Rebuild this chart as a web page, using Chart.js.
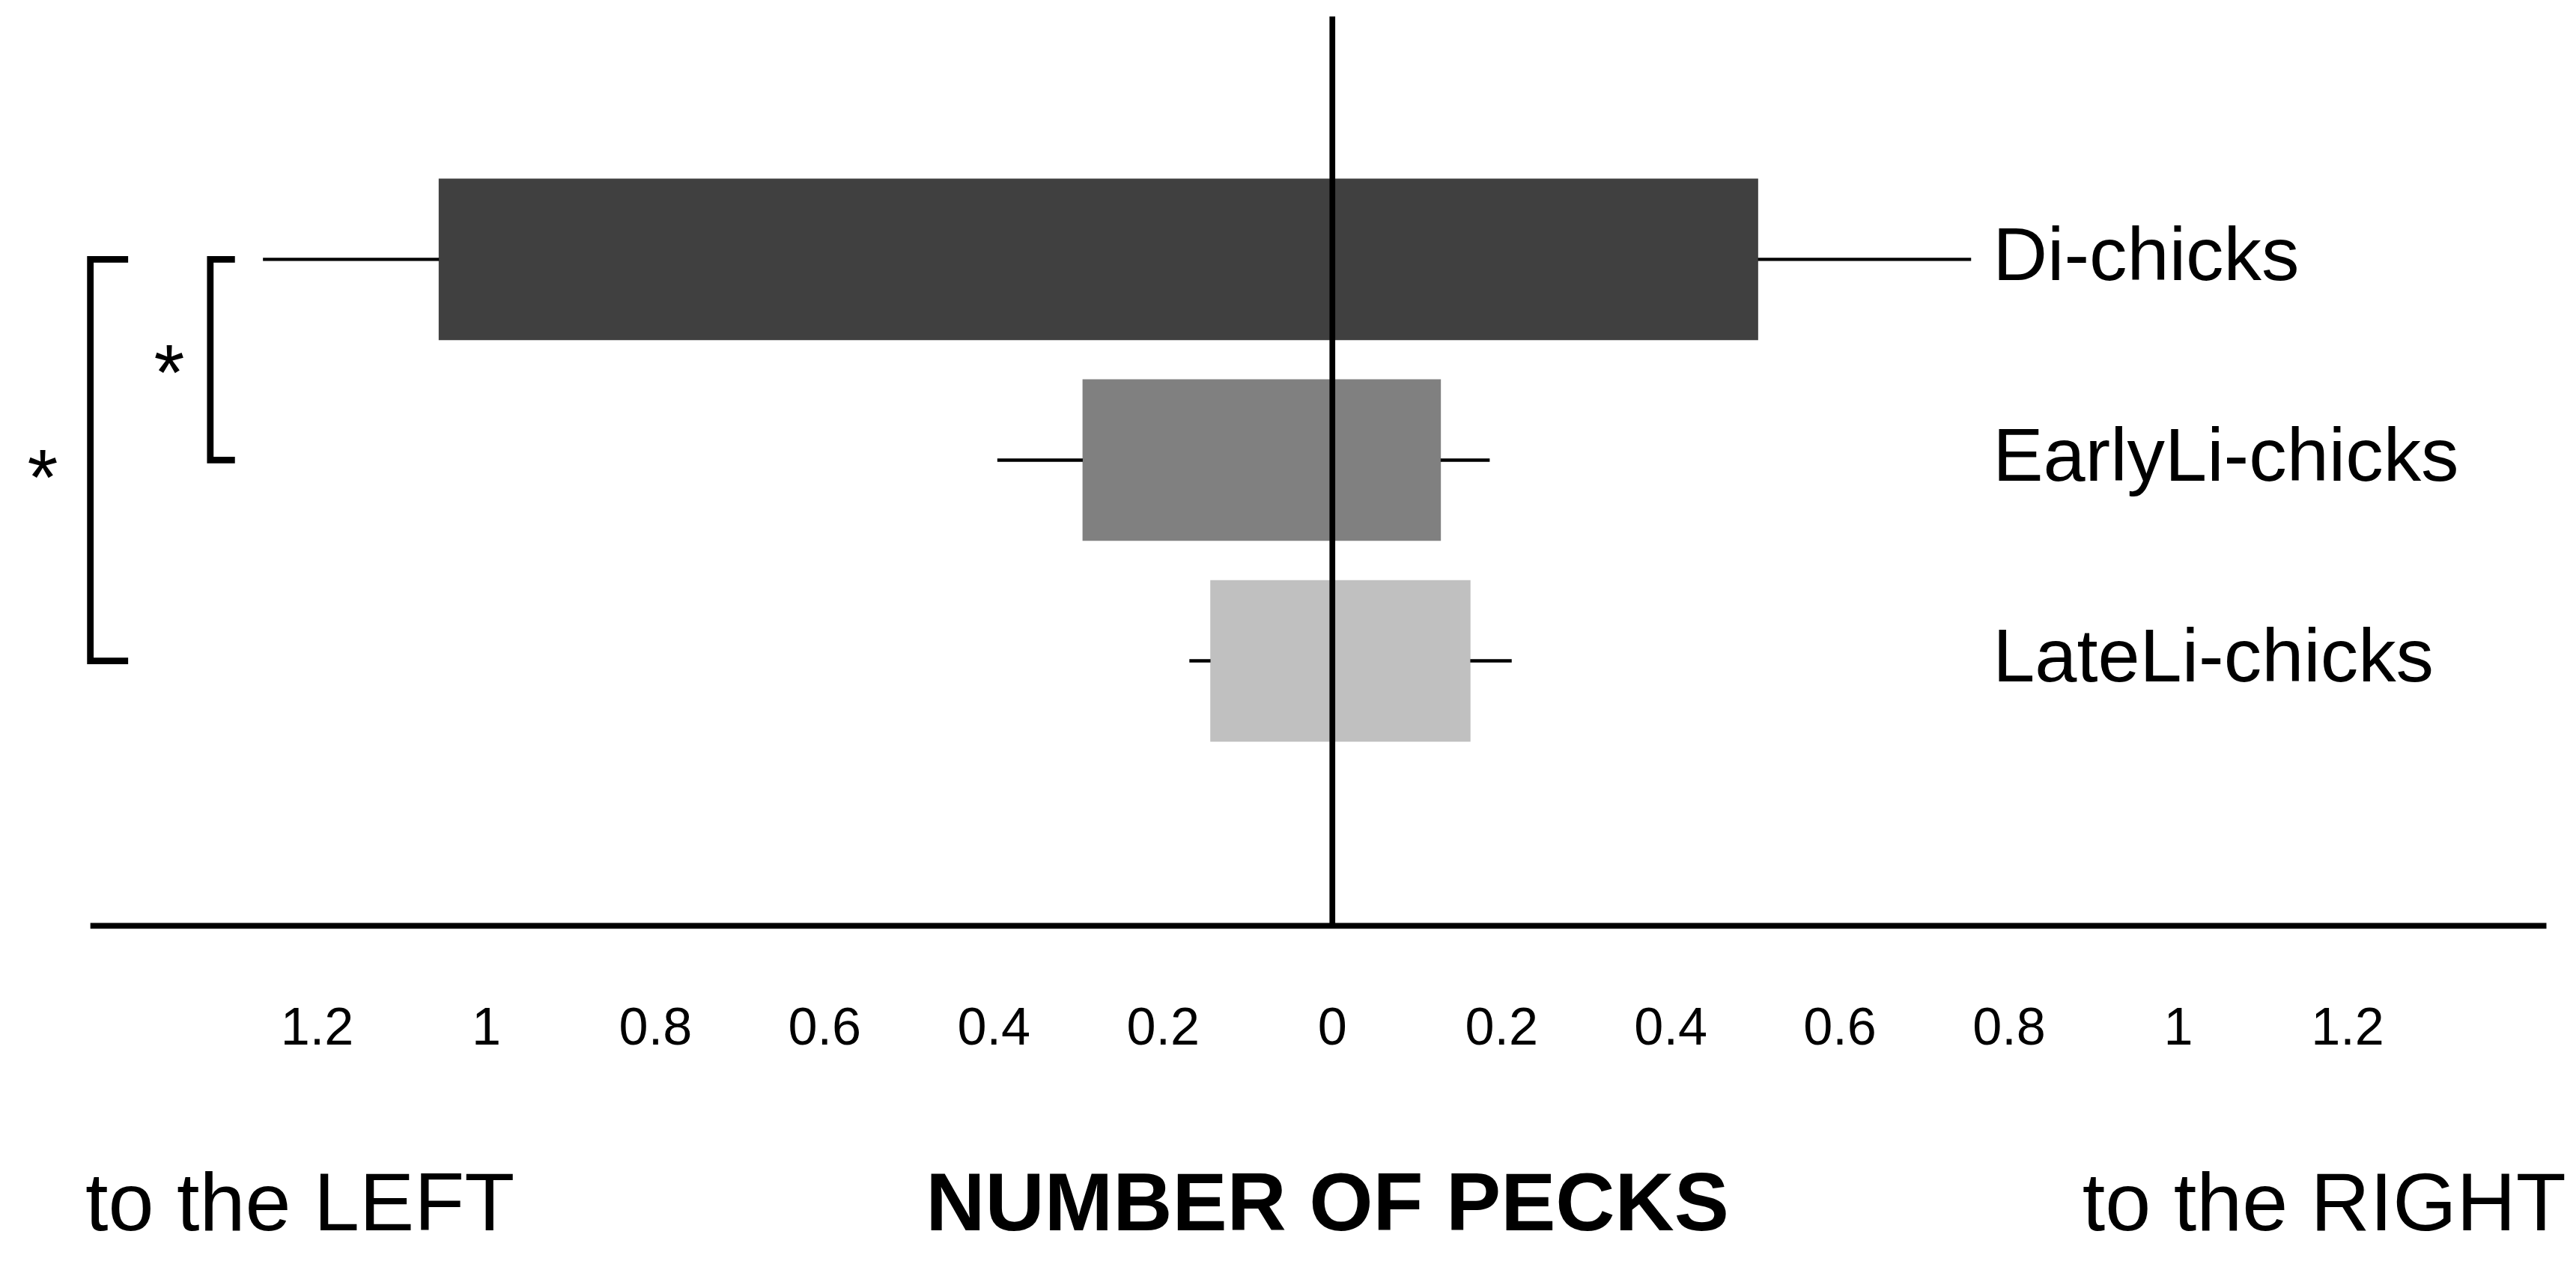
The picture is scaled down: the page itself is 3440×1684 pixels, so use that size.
<!DOCTYPE html>
<html><head><meta charset="utf-8">
<script src="https://cdn.jsdelivr.net/npm/chart.js@4"></script>
<style>html,body{margin:0;padding:0;background:#fff}#w{width:3440px;height:1684px}</style>
</head><body><div id="w"><canvas id="c"></canvas></div>
<script>
const categories = ['Di-chicks', 'EarlyLi-chicks', 'LateLi-chicks'];
const leftMeans = [1.056, 0.295, 0.144];
const rightMeans = [0.503, 0.128, 0.163];
const leftErr = [1.264, 0.396, 0.169];
const rightErr = [0.755, 0.186, 0.212];
const colors = ['#404040', '#808080', '#c0c0c0'];
const tickValues = [-1.2, -1, -0.8, -0.6, -0.4, -0.2, 0, 0.2, 0.4, 0.6, 0.8, 1, 1.2];

const S = 3440 / 1568;
const F = 'Arial, "Liberation Sans", sans-serif';

const deco = {
  id: 'deco',
  afterDatasetsDraw(ch) {
    const c = ch.ctx, x = ch.scales.x, y = ch.scales.y, a = ch.chartArea;
    c.save();
    c.strokeStyle = '#000';
    c.lineWidth = 2 * S;
    categories.forEach((n, i) => {
      const py = y.getPixelForValue(i + 1);
      c.beginPath();
      c.moveTo(x.getPixelForValue(-leftErr[i]), py); c.lineTo(x.getPixelForValue(-leftMeans[i]), py);
      c.moveTo(x.getPixelForValue(rightMeans[i]), py); c.lineTo(x.getPixelForValue(rightErr[i]), py);
      c.stroke();
    });
    c.lineWidth = 3.5 * S;
    const x0 = x.getPixelForValue(0);
    c.beginPath(); c.moveTo(x0, a.top); c.lineTo(x0, a.bottom); c.stroke();
    c.beginPath(); c.moveTo(a.left, a.bottom); c.lineTo(a.right, a.bottom); c.stroke();
    c.fillStyle = '#000'; c.textAlign = 'center'; c.textBaseline = 'middle';
    c.font = `${32 * S}px ${F}`;
    tickValues.forEach(v => {
      c.fillText(String(Math.round(Math.abs(v) * 10) / 10), x.getPixelForValue(v), 627 * S);
    });
    c.textAlign = 'left';
    c.font = `${46 * S}px ${F}`;
    categories.forEach((n, i) => c.fillText(n, 1213 * S, y.getPixelForValue(i + 1)));
    c.font = `${50 * S}px ${F}`;
    c.fillText('to the LEFT', 52 * S, 735 * S);
    c.textAlign = 'right';
    c.fillText('to the RIGHT', 1562 * S, 735 * S);
    c.textAlign = 'center';
    c.font = `bold ${50 * S}px ${F}`;
    c.fillText('NUMBER OF PECKS', 808 * S, 735 * S);
    c.lineWidth = 4 * S;
    const y1 = y.getPixelForValue(1), y2 = y.getPixelForValue(2), y3 = y.getPixelForValue(3);
    c.beginPath();
    c.moveTo(78 * S, y1); c.lineTo(55 * S, y1); c.lineTo(55 * S, y3); c.lineTo(78 * S, y3);
    c.moveTo(143 * S, y1); c.lineTo(128 * S, y1); c.lineTo(128 * S, y2); c.lineTo(143 * S, y2);
    c.stroke();
    c.font = `${48 * S}px ${F}`;
    c.fillText('*', 26 * S, 294 * S);
    c.fillText('*', 103 * S, 230 * S);
    c.restore();
  }
};

new Chart(document.getElementById('c'), {
  type: 'bar',
  data: {
    datasets: [{
      data: categories.map((n, i) => ({ x: [-leftMeans[i], rightMeans[i]], y: i + 1 })),
      backgroundColor: colors,
      borderWidth: 0,
      barThickness: 98 * S
    }]
  },
  plugins: [deco],
  options: {
    indexAxis: 'y',
    responsive: true, maintainAspectRatio: false, animation: false,
    devicePixelRatio: 1,
    layout: { padding: { left: 55 * S, right: 18 * S, top: 10 * S, bottom: 204 * S } },
    plugins: { legend: { display: false }, tooltip: { enabled: false } },
    scales: {
      x: { type: 'linear', min: -1.468, max: 1.435, display: false },
      y: { type: 'linear', min: -0.21, max: 4.32, reverse: true, offset: false, display: false }
    }
  }
});
</script></body></html>
